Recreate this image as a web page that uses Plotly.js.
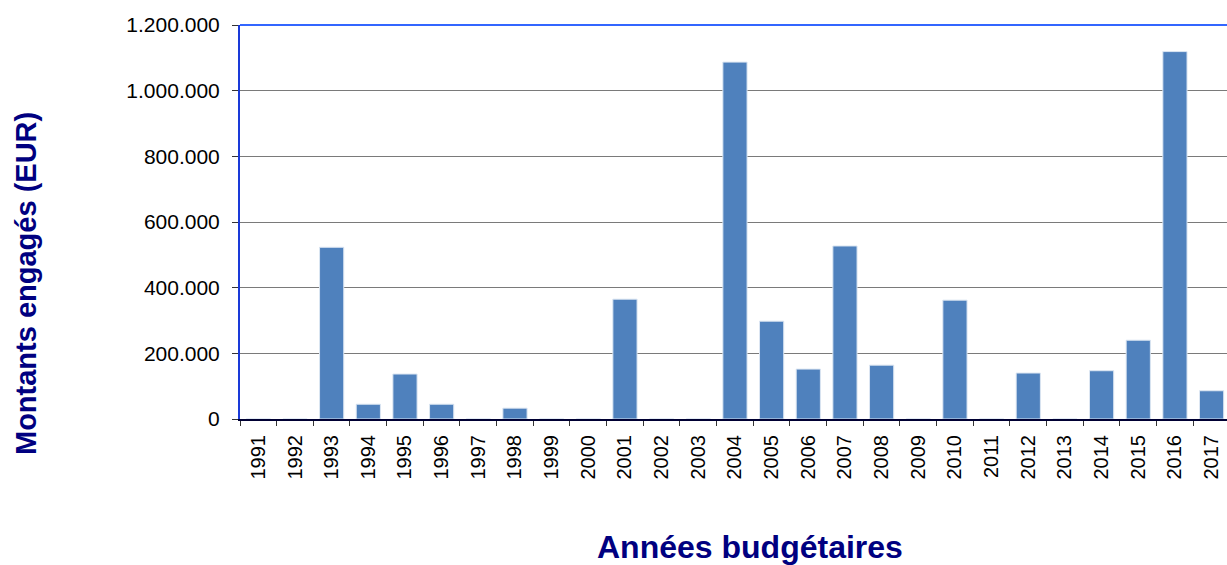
<!DOCTYPE html>
<html>
<head>
<meta charset="utf-8">
<script src="https://cdn.plot.ly/plotly-3.0.1.min.js"></script>
<style>html,body{margin:0;padding:0;overflow:hidden;background:#fff;}</style>
</head>
<body>
<div id="chart" style="width:1227px;height:565px;"></div>
<script>
const years = ['1991','1992','1993','1994','1995','1996','1997','1998','1999','2000','2001','2002','2003','2004','2005','2006','2007','2008','2009','2010','2011','2012','2013','2014','2015','2016','2017'];
const amounts = [0,0,523000,45000,137000,45000,0,33000,0,0,365000,0,0,1087000,298000,152000,527000,164000,0,362000,0,140000,0,147000,240000,1119000,86000];
const yTicks = [0,200000,400000,600000,800000,1000000,1200000];
const yTickLabels = ['0','200.000','400.000','600.000','800.000','1.000.000','1.200.000'];
const xTitle = 'Années budgétaires';
const yTitle = 'Montants engagés (EUR)';

const H = 565, T = 25, B = 146, L = 240;
const plotH = H - T - B;
function py(pix) { return 1 - (pix - T) / plotH; }
function px(pix) { return (pix - L) / (1227 - L); }

const trace = {
  type: 'bar',
  x: years,
  y: amounts,
  marker: {color: '#4f81bd', line: {color: '#dce6f2', width: 1}},
  width: 0.66,
  hoverinfo: 'x+y'
};

const titleFont = {family: 'Liberation Sans, Arial, sans-serif', color: '#000080', weight: 'bold'};

const layout = {
  width: 1227, height: 565,
  margin: {l: L, r: 0, t: T, b: B, pad: 0},
  paper_bgcolor: '#fff', plot_bgcolor: '#fff',
  font: {family: 'Liberation Sans, Arial, sans-serif', color: '#000'},
  showlegend: false,
  xaxis: {
    type: 'category',
    range: [-0.5, 26.42],
    tickangle: -90,
    tickfont: {size: 20, color: '#000'},
    ticks: 'outside', ticklen: 5, tickcolor: '#333',
    tickson: 'boundaries',
    ticklabelstandoff: 6,
    showline: true, linecolor: '#000033', linewidth: 2,
    showgrid: false, zeroline: false
  },
  yaxis: {
    range: [0, 1200000],
    tickvals: yTicks, ticktext: yTickLabels,
    tickfont: {size: 21, color: '#000'},
    ticks: 'outside', ticklen: 6, tickcolor: '#333',
    ticklabelstandoff: 8,
    showline: true, linecolor: '#1a3ad8', linewidth: 2,
    showgrid: true, gridcolor: '#7a7a7a', gridwidth: 1,
    zeroline: false
  },
  shapes: [{type: 'line', xref: 'paper', yref: 'paper', x0: 0, x1: 1, y0: 1, y1: 1, line: {color: '#3366ff', width: 2}}],
  annotations: [
    {text: xTitle, xref: 'paper', yref: 'paper', x: px(750), y: py(547), xanchor: 'center', yanchor: 'middle',
     showarrow: false, font: Object.assign({size: 32}, titleFont)},
    {text: yTitle, xref: 'paper', yref: 'paper', x: px(26), y: py(284), xanchor: 'center', yanchor: 'middle',
     textangle: -90, showarrow: false, font: Object.assign({size: 29}, titleFont)}
  ]
};

Plotly.newPlot('chart', [trace], layout, {displayModeBar: false, responsive: false});
</script>
</body>
</html>
